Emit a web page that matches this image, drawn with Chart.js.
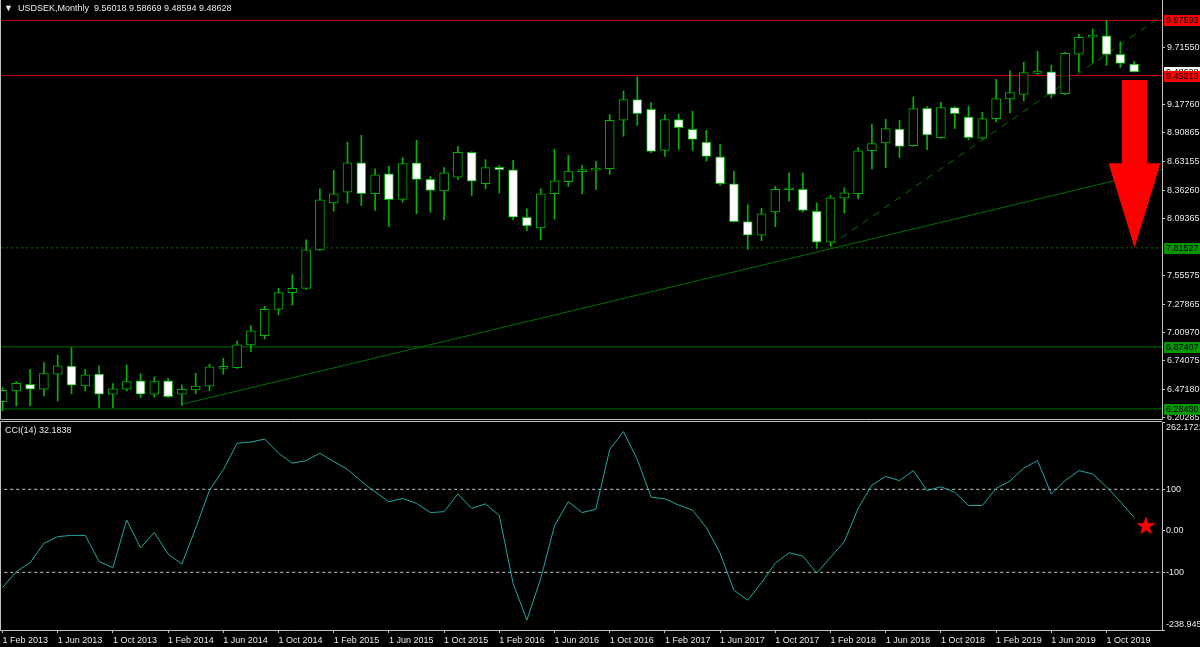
<!DOCTYPE html>
<html>
<head>
<meta charset="utf-8">
<title>USDSEK, Monthly</title>
<script src="https://cdn.jsdelivr.net/npm/chart.js"></script>
<style>
    body { margin: 0; background: #000; width: 1200px; height: 647px; overflow: hidden; position: relative;
           font-family: 'Liberation Sans', sans-serif; }
    canvas { position: absolute; left: 0; background: #000; }
    #priceChart { top: 0; }
    #cciChart { top: 421px; }
    .lbl { position: absolute; color: #e8e8e8; font-size: 9px; white-space: pre; }
    #header { left: 4px; top: 3px; }
    #cciLabel { left: 5px; top: 425px; }
</style>
</head>
<body>
<canvas id="priceChart" width="1200" height="420"></canvas>
<canvas id="cciChart" width="1200" height="226"></canvas>
<div id="header" class="lbl">▼  USDSEK,Monthly  9.56018 9.58669 9.48594 9.48628</div>
<div id="cciLabel" class="lbl">CCI(14) 32.1838</div>

<script>
// monthly bars, Feb 2013 (index 0) .. Dec 2019 (index 82)
const opens = [6.354, 6.455, 6.519, 6.472, 6.615, 6.691, 6.503, 6.615, 6.424, 6.472,
    6.551, 6.424, 6.551, 6.424, 6.465, 6.500, 6.670, 6.678, 6.894, 6.980,
    7.230, 7.390, 7.430, 7.796, 8.243, 8.344, 8.624, 8.329, 8.519, 8.275,
    8.624, 8.465, 8.357, 8.487, 8.722, 8.424, 8.579, 8.557, 8.106, 8.005,
    8.329, 8.443, 8.540, 8.553, 8.567, 9.027, 9.224, 9.132, 8.741, 9.034,
    8.941, 8.820, 8.681, 8.424, 8.065, 7.935, 8.157, 8.367, 8.370, 8.163,
    7.868, 8.287, 8.329, 8.738, 8.813, 8.944, 8.786, 9.141, 8.862, 9.148,
    9.058, 8.856, 9.043, 9.230, 9.272, 9.472, 9.487, 9.281, 9.656, 9.817,
    9.830, 9.653, 9.56018];
const highs = [6.487, 6.544, 6.662, 6.725, 6.798, 6.868, 6.662, 6.694, 6.525, 6.703,
    6.620, 6.589, 6.576, 6.513, 6.624, 6.710, 6.767, 6.930, 7.075, 7.260,
    7.430, 7.560, 7.891, 8.377, 8.551, 8.820, 8.884, 8.567, 8.592, 8.672,
    8.837, 8.494, 8.577, 8.779, 8.729, 8.653, 8.598, 8.646, 8.186, 8.377,
    8.751, 8.694, 8.598, 8.637, 9.084, 9.306, 9.439, 9.196, 9.081, 9.084,
    9.113, 8.932, 8.798, 8.544, 8.224, 8.192, 8.398, 8.529, 8.525, 8.243,
    8.313, 8.386, 8.767, 8.989, 9.037, 9.027, 9.249, 9.154, 9.201, 9.155,
    9.160, 9.103, 9.417, 9.497, 9.579, 9.684, 9.551, 9.672, 9.846, 9.894,
    9.976, 9.773, 9.58669];
const lows = [6.265, 6.313, 6.313, 6.408, 6.360, 6.430, 6.456, 6.297, 6.297, 6.456,
    6.392, 6.398, 6.392, 6.319, 6.430, 6.456, 6.615, 6.670, 6.830, 6.950,
    7.180, 7.270, 7.420, 7.789, 8.163, 8.239, 8.217, 8.170, 8.017, 8.249,
    8.138, 8.154, 8.084, 8.462, 8.313, 8.377, 8.335, 8.081, 7.979, 7.891,
    8.087, 8.398, 8.329, 8.367, 8.513, 8.875, 8.979, 8.720, 8.684, 8.751,
    8.741, 8.639, 8.408, 8.058, 7.800, 7.884, 8.017, 8.258, 8.154, 7.811,
    7.827, 8.144, 8.281, 8.565, 8.575, 8.672, 8.780, 8.748, 8.855, 8.948,
    8.843, 8.850, 9.011, 9.097, 9.211, 9.465, 9.239, 9.272, 9.487, 9.573,
    9.548, 9.529, 9.48594];
const closes = [6.462, 6.529, 6.472, 6.620, 6.694, 6.510, 6.608, 6.424, 6.477, 6.544,
    6.424, 6.544, 6.401, 6.472, 6.503, 6.684, 6.684, 6.894, 7.027, 7.230,
    7.390, 7.430, 7.796, 8.272, 8.329, 8.624, 8.329, 8.510, 8.272, 8.615,
    8.465, 8.360, 8.529, 8.722, 8.449, 8.577, 8.557, 8.106, 8.024, 8.329,
    8.453, 8.544, 8.544, 8.557, 9.027, 9.224, 9.091, 8.732, 9.034, 8.957,
    8.846, 8.684, 8.424, 8.065, 7.935, 8.138, 8.370, 8.370, 8.170, 7.868,
    8.291, 8.338, 8.738, 8.805, 8.948, 8.779, 9.138, 8.887, 9.148, 9.091,
    8.862, 9.043, 9.234, 9.291, 9.481, 9.494, 9.272, 9.662, 9.815, 9.834,
    9.653, 9.567, 9.48628];

const cciValues = [-137, -98, -77, -30, -14, -11, -11, -74, -89, 26,
    -41, -4, -56, -80, 6, 98, 147, 211, 214, 221,
    187, 163, 169, 187, 167, 148, 119, 94, 70, 78,
    66, 44, 46, 89, 54, 65, 37, -127, -215, -115,
    12, 70, 44, 52, 196, 239, 172, 81, 77, 62,
    50, 8, -54, -143, -167, -125, -78, -53, -61, -102,
    -64, -26, 54, 110, 131, 121, 145, 97, 106, 93,
    61, 61, 102, 120, 151, 169, 89, 121, 145, 137,
    106, 70, 32.1838];

const dateLabels = ['1 Feb 2013', '1 Jun 2013', '1 Oct 2013', '1 Feb 2014', '1 Jun 2014', '1 Oct 2014',
    '1 Feb 2015', '1 Jun 2015', '1 Oct 2015', '1 Feb 2016', '1 Jun 2016', '1 Oct 2016',
    '1 Feb 2017', '1 Jun 2017', '1 Oct 2017', '1 Feb 2018', '1 Jun 2018', '1 Oct 2018',
    '1 Feb 2019', '1 Jun 2019', '1 Oct 2019'];
const priceTicks = [9.71550, 9.17760, 8.90865, 8.63155, 8.36260, 8.09365, 7.55575,
    7.27865, 7.00970, 6.74075, 6.47180, 6.20285];
const cciTicks = [262.1721, 100, 0, -100, -238.9453];

// levels and drawn objects
const redLevels = [9.97593, 9.45213];
const greenLevels = [6.87407, 6.28480];
const dottedLevel = 7.81527;
const lastPrice = 9.48628;
const trendLine = [[13, 6.329], [84.02, 8.561]];
const channelLine = [[60, 7.84], [84.02, 10.02]];
const arrowPos = { x: 82.03, top: 9.41, neck: 8.62, tip: 7.8153 };
const starPos = { x: 82.86, y: 11 };

const X_MIN = -0.181, X_MAX = 84.02;
const GREEN = '#00b400';
const AXIS = '#c0c0c0';
const TEXT = '#e8e8e8';
const FONT = { family: "'Liberation Sans', sans-serif", size: 9 };

function hLine(v, color, dash) {
    return { type: 'line', data: [{ x: X_MIN - 1, y: v }, { x: X_MAX + 1, y: v }],
        borderColor: color, borderWidth: 1, borderDash: dash || [], pointRadius: 0 };
}
function segLine(pts, color, dash) {
    return { type: 'line', data: pts.map(p => ({ x: p[0], y: p[1] })),
        borderColor: color, borderWidth: 1, borderDash: dash || [], pointRadius: 0 };
}

// price panel overlays: frame, price boxes, arrow
const priceOverlay = {
    id: 'priceOverlay',
    afterDraw(chart) {
        const ctx = chart.ctx, a = chart.chartArea;
        const xs = chart.scales.x, ys = chart.scales.y;
        ctx.save();
        ctx.strokeStyle = AXIS;
        ctx.lineWidth = 1;
        ctx.beginPath();
        ctx.moveTo(0.5, 0); ctx.lineTo(0.5, a.bottom - 0.5);
        ctx.lineTo(a.right, a.bottom - 0.5);
        ctx.stroke();

        // arrow
        const cx = xs.getPixelForValue(arrowPos.x);
        const yTop = ys.getPixelForValue(arrowPos.top);
        const yNeck = ys.getPixelForValue(arrowPos.neck);
        const yTip = ys.getPixelForValue(arrowPos.tip);
        ctx.fillStyle = '#ff0000';
        ctx.beginPath();
        ctx.moveTo(cx - 12.5, yTop); ctx.lineTo(cx + 12.5, yTop);
        ctx.lineTo(cx + 12.5, yNeck); ctx.lineTo(cx + 26, yNeck);
        ctx.lineTo(cx, yTip); ctx.lineTo(cx - 26, yNeck);
        ctx.lineTo(cx - 12.5, yNeck); ctx.closePath();
        ctx.fill();

        // price boxes on the axis
        ctx.font = '9px ' + FONT.family;
        ctx.textBaseline = 'middle';
        const box = (v, bg, fg) => {
            const y = Math.round(ys.getPixelForValue(v));
            ctx.fillStyle = bg;
            ctx.fillRect(a.right + 2, y - 5, 38, 11);
            ctx.fillStyle = fg;
            ctx.fillText(v.toFixed(5), a.right + 4, y + 0.5);
        };
        box(lastPrice, '#ffffff', '#000000');
        redLevels.forEach(v => box(v, '#ff0000', '#000000'));
        box(dottedLevel, '#009600', '#000000');
        greenLevels.forEach(v => box(v, '#009600', '#000000'));
        ctx.restore();
    }
};

const cciOverlay = {
    id: 'cciOverlay',
    afterDraw(chart) {
        const ctx = chart.ctx, a = chart.chartArea;
        ctx.save();
        ctx.strokeStyle = AXIS;
        ctx.lineWidth = 1;
        ctx.beginPath();
        ctx.moveTo(0, 0.5); ctx.lineTo(a.right, 0.5);
        ctx.moveTo(0.5, 0); ctx.lineTo(0.5, a.bottom);
        ctx.stroke();

        const sx = chart.scales.x.getPixelForValue(starPos.x);
        const sy = chart.scales.y.getPixelForValue(starPos.y);
        ctx.fillStyle = '#ff0000';
        ctx.beginPath();
        for (let k = 0; k < 10; k++) {
            const r = k % 2 === 0 ? 10 : 4;
            const ang = -Math.PI / 2 + k * Math.PI / 5;
            const px = sx + r * Math.cos(ang), py = sy + r * Math.sin(ang);
            if (k === 0) ctx.moveTo(px, py); else ctx.lineTo(px, py);
        }
        ctx.closePath();
        ctx.fill();
        ctx.restore();
    }
};

const bodyColors = opens.map((o, i) => closes[i] < o ? '#ffffff' : '#000000');

new Chart(document.getElementById('priceChart'), {
    type: 'bar',
    data: {
        datasets: [
            {
                data: opens.map((o, i) => ({ x: i, y: [o, closes[i]] })),
                backgroundColor: bodyColors, borderColor: GREEN, borderWidth: 1,
                borderSkipped: false, barThickness: 9, minBarLength: 2, grouped: false
            },
            {
                data: lows.map((l, i) => ({ x: i, y: [l, highs[i]] })),
                backgroundColor: GREEN, borderWidth: 0, barThickness: 1, grouped: false
            },
            hLine(redLevels[0], '#d00000'),
            hLine(redLevels[1], '#d00000'),
            hLine(greenLevels[0], '#006e00'),
            hLine(greenLevels[1], '#006e00'),
            hLine(dottedLevel, '#007800', [2, 3]),
            segLine(trendLine, '#007000'),
            segLine(channelLine, '#007000', [7, 6])
        ]
    },
    options: {
        responsive: false,
        animation: false,
        events: [],
        layout: { padding: 0 },
        plugins: { legend: { display: false }, tooltip: { enabled: false } },
        scales: {
            x: { type: 'linear', min: X_MIN, max: X_MAX, offset: false, display: false },
            y: {
                position: 'right', min: 6.1798, max: 10.1698,
                afterBuildTicks: s => { s.ticks = priceTicks.map(v => ({ value: v })); },
                afterFit: s => { s.width = 38; s.paddingTop = 0; s.paddingBottom = 0; },
                grid: { drawOnChartArea: false, tickLength: 3, color: AXIS },
                border: { display: true, color: AXIS },
                ticks: {
                    autoSkip: false, color: TEXT, font: FONT, padding: 2,
                    callback: v => v.toFixed(5)
                }
            }
        }
    },
    plugins: [priceOverlay]
});

new Chart(document.getElementById('cciChart'), {
    type: 'line',
    data: {
        datasets: [
            {
                data: cciValues.map((v, i) => ({ x: i, y: v })),
                borderColor: '#20a8a0', borderWidth: 1, pointRadius: 0, tension: 0
            },
            hLine(100, '#c8c8c8', [3, 3]),
            hLine(-100, '#c8c8c8', [3, 3])
        ]
    },
    options: {
        responsive: false,
        animation: false,
        events: [],
        layout: { padding: { top: 1, left: 0, right: 0, bottom: 0 } },
        plugins: { legend: { display: false }, tooltip: { enabled: false } },
        scales: {
            x: {
                type: 'linear', min: X_MIN, max: X_MAX, offset: false,
                afterBuildTicks: s => { s.ticks = dateLabels.map((_, k) => ({ value: k * 4 })); },
                afterFit: s => { s.height = 17; s.paddingLeft = 0; s.paddingRight = 0; },
                grid: { drawOnChartArea: false, tickLength: 3, color: AXIS },
                border: { display: true, color: AXIS },
                ticks: {
                    autoSkip: false, maxRotation: 0, align: 'start', padding: 2,
                    color: TEXT, font: FONT,
                    callback: (v, idx) => dateLabels[idx]
                }
            },
            y: {
                position: 'right', min: cciTicks[cciTicks.length - 1], max: cciTicks[0],
                afterBuildTicks: s => { s.ticks = cciTicks.map(v => ({ value: v })); },
                afterFit: s => { s.width = 38; s.paddingTop = 0; s.paddingBottom = 0; },
                grid: { drawOnChartArea: false, tickLength: 3, color: AXIS },
                border: { display: true, color: AXIS },
                ticks: {
                    autoSkip: false, color: TEXT, font: FONT, padding: 1,
                    callback: v => {
                        if (v === cciTicks[0]) return ['', v.toFixed(4)];
                        if (v === cciTicks[cciTicks.length - 1]) return [v.toFixed(4), ''];
                        if (v === 0) return '0.00';
                        return String(v);
                    }
                }
            }
        }
    },
    plugins: [cciOverlay]
});
</script>
</body>
</html>
